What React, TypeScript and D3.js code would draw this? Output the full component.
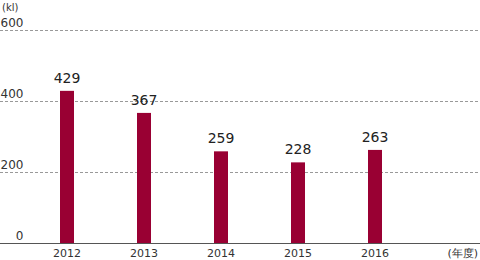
import React from "react";
import * as d3 from "d3";

const years = ["2012", "2013", "2014", "2015", "2016"];
const values = [429, 367, 259, 228, 263];
const yTicks = [0, 200, 400, 600];

const W = 480;
const H = 260;
const FONT = "'DejaVu Sans', sans-serif";

export default function App() {
  const x = d3.scalePoint<string>().domain(years).range([67, 375]);
  const y = d3.scaleLinear().domain([0, 600]).range([243.5, 30]);
  const bw = 14;
  return (
    <svg width={W} height={H} style={{ position: "absolute", left: 0, top: 0, background: "#fff" }}>
      <text x={2} y={10.5} fontSize={10} fontFamily={FONT} fill="#333">(kl)</text>
      {yTicks.map((t) => (
        <g key={t}>
          {t > 0 && (
            <line x1={0} x2={W} y1={Math.round(y(t)) + 0.5} y2={Math.round(y(t)) + 0.5}
              stroke="#999" strokeDasharray="3,2" strokeWidth={1} />
          )}
          <text x={23.5} y={y(t) - 3.5} fontSize={12} fontFamily={FONT} fill="#333" textAnchor="end">{t}</text>
        </g>
      ))}
      {years.map((yr, i) => (
        <g key={yr}>
          <rect x={x(yr)! - bw / 2} y={y(values[i])} width={bw} height={y(0) - y(values[i])} fill="#990033" />
          <text x={x(yr)} y={y(values[i]) - 8} fontSize={14} fontFamily={FONT} fill="#222" textAnchor="middle">{values[i]}</text>
          <text x={x(yr)} y={257} fontSize={11} fontFamily={FONT} fill="#333" textAnchor="middle">{yr}</text>
        </g>
      ))}
      <line x1={0} x2={W} y1={243.5} y2={243.5} stroke="#555" strokeWidth={1} />
      <text x={478} y={257} fontSize={11} fontFamily={FONT} fill="#333" textAnchor="end">(年度)</text>
    </svg>
  );
}
